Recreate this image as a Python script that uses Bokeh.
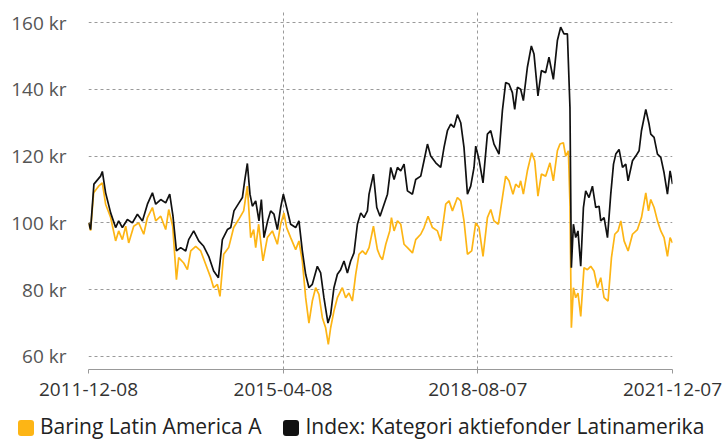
from datetime import datetime
from bokeh.plotting import figure
from bokeh.layouts import column
from bokeh.models import (Range1d, FixedTicker, DatetimeTickFormatter, PrintfTickFormatter,
                          ColumnDataSource, Div)
from bokeh.embed import file_html
from bokeh.resources import INLINE

# Decimal-year time stamps and values (kr)
index_t = [2011.936, 2011.970, 2012.027, 2012.141, 2012.171, 2012.227, 2012.313, 2012.398, 2012.450, 2012.513,
           2012.599, 2012.684, 2012.770, 2012.856, 2012.941, 2013.027, 2013.083, 2013.169, 2013.254, 2013.323,
           2013.379, 2013.438, 2013.511, 2013.597, 2013.648, 2013.734, 2013.820, 2013.905, 2013.991, 2014.076,
           2014.157, 2014.225, 2014.311, 2014.368, 2014.424, 2014.510, 2014.568, 2014.607, 2014.653, 2014.698,
           2014.739, 2014.796, 2014.852, 2014.893, 2014.938, 2015.001, 2015.052, 2015.109, 2015.167, 2015.224,
           2015.270, 2015.326, 2015.395, 2015.481, 2015.537, 2015.595, 2015.652, 2015.708, 2015.766, 2015.852,
           2015.909, 2015.965, 2016.034, 2016.080, 2016.136, 2016.195, 2016.251, 2016.308, 2016.366, 2016.422,
           2016.479, 2016.537, 2016.594, 2016.650, 2016.708, 2016.736, 2016.811, 2016.868, 2016.924, 2016.993,
           2017.051, 2017.107, 2017.164, 2017.222, 2017.278, 2017.335, 2017.393, 2017.479, 2017.535, 2017.621,
           2017.677, 2017.736, 2017.792, 2017.878, 2017.963, 2018.020, 2018.078, 2018.135, 2018.191, 2018.249,
           2018.306, 2018.362, 2018.421, 2018.477, 2018.534, 2018.563, 2018.619, 2018.688, 2018.763, 2018.820,
           2018.876, 2018.962, 2019.020, 2019.076, 2019.133, 2019.191, 2019.231, 2019.277, 2019.333, 2019.379,
           2019.448, 2019.516, 2019.561, 2019.629, 2019.688, 2019.761, 2019.818, 2019.893, 2019.962, 2020.018,
           2020.075, 2020.133, 2020.177, 2020.201, 2020.236, 2020.275, 2020.314, 2020.361, 2020.407, 2020.446,
           2020.503, 2020.561, 2020.618, 2020.674, 2020.703, 2020.760, 2020.818, 2020.874, 2020.921, 2020.960,
           2021.016, 2021.075, 2021.131, 2021.171, 2021.246, 2021.302, 2021.359, 2021.400, 2021.474, 2021.530,
           2021.559, 2021.616, 2021.674, 2021.731, 2021.787, 2021.845, 2021.890, 2021.932]
index_v = [100.0, 98.0, 111.6, 114.0, 115.4, 109.0, 103.0, 98.6, 100.6, 98.6,
           101.0, 100.0, 102.6, 100.6, 105.6, 109.0, 105.6, 107.0, 106.0, 108.6,
           102.0, 91.6, 92.6, 91.6, 95.0, 97.6, 94.6, 93.0, 90.0, 85.6,
           83.6, 95.0, 98.0, 98.6, 103.6, 106.0, 107.6, 112.6, 117.8, 108.6,
           105.0, 106.6, 100.6, 107.0, 95.6, 100.6, 103.6, 102.6, 98.0, 104.6,
           108.6, 104.6, 99.6, 98.6, 100.6, 91.6, 84.6, 80.6, 81.6, 87.0,
           85.0, 77.6, 70.0, 72.6, 80.6, 84.6, 86.0, 88.6, 85.0, 88.6,
           91.0, 99.6, 103.0, 101.6, 103.6, 108.6, 114.6, 104.6, 102.0, 105.6,
           108.6, 116.6, 113.0, 116.6, 115.6, 117.6, 109.6, 108.6, 113.0, 114.0,
           118.6, 123.6, 120.0, 118.0, 116.6, 122.6, 127.6, 129.6, 128.6, 132.4,
           130.0, 122.6, 108.6, 111.0, 116.6, 123.0, 119.0, 112.0, 126.6, 127.6,
           123.6, 120.6, 133.6, 142.0, 141.6, 139.0, 134.0, 140.6, 140.0, 136.6,
           146.6, 153.0, 150.6, 138.0, 145.6, 145.0, 149.6, 143.0, 154.6, 158.6,
           156.6, 156.6, 134.6, 86.6, 99.6, 95.6, 97.6, 87.0, 104.6, 109.6,
           107.6, 111.0, 104.6, 105.0, 100.6, 101.6, 95.6, 108.6, 117.6, 120.6,
           122.0, 116.6, 117.6, 112.6, 118.6, 120.0, 121.6, 127.6, 134.0, 129.6,
           126.6, 125.6, 120.6, 119.6, 115.0, 108.6, 115.6, 111.6]

fund_t = [2011.936, 2011.970, 2012.022, 2012.107, 2012.171, 2012.227, 2012.313, 2012.398, 2012.450, 2012.513,
          2012.570, 2012.621, 2012.707, 2012.792, 2012.878, 2012.941, 2013.027, 2013.083, 2013.169, 2013.254,
          2013.306, 2013.374, 2013.438, 2013.477, 2013.563, 2013.626, 2013.683, 2013.768, 2013.854, 2013.939,
          2014.025, 2014.076, 2014.140, 2014.184, 2014.248, 2014.333, 2014.419, 2014.504, 2014.590, 2014.653,
          2014.710, 2014.761, 2014.796, 2014.847, 2014.921, 2014.996, 2015.082, 2015.167, 2015.224, 2015.280,
          2015.326, 2015.395, 2015.481, 2015.537, 2015.595, 2015.652, 2015.708, 2015.766, 2015.823, 2015.879,
          2015.938, 2015.994, 2016.040, 2016.080, 2016.136, 2016.195, 2016.280, 2016.337, 2016.393, 2016.451,
          2016.508, 2016.564, 2016.623, 2016.679, 2016.736, 2016.811, 2016.879, 2016.924, 2016.965, 2017.022,
          2017.090, 2017.119, 2017.164, 2017.222, 2017.278, 2017.335, 2017.393, 2017.479, 2017.535, 2017.621,
          2017.677, 2017.746, 2017.821, 2017.907, 2017.963, 2018.049, 2018.106, 2018.164, 2018.249, 2018.306,
          2018.362, 2018.421, 2018.494, 2018.563, 2018.619, 2018.688, 2018.763, 2018.820, 2018.876, 2018.951,
          2019.020, 2019.076, 2019.133, 2019.201, 2019.248, 2019.304, 2019.333, 2019.379, 2019.448, 2019.522,
          2019.573, 2019.629, 2019.688, 2019.761, 2019.835, 2019.893, 2019.962, 2020.006, 2020.064, 2020.104,
          2020.150, 2020.177, 2020.201, 2020.236, 2020.275, 2020.314, 2020.361, 2020.417, 2020.475, 2020.532,
          2020.588, 2020.647, 2020.703, 2020.760, 2020.828, 2020.886, 2020.943, 2020.999, 2021.046, 2021.102,
          2021.171, 2021.246, 2021.331, 2021.400, 2021.474, 2021.520, 2021.559, 2021.616, 2021.674, 2021.731,
          2021.787, 2021.845, 2021.890, 2021.932]
fund_v = [100.0, 97.7, 109.0, 111.0, 112.0, 105.6, 101.6, 94.6, 97.6, 95.0,
          99.0, 94.0, 99.0, 100.0, 96.6, 101.6, 104.6, 100.6, 102.0, 98.0,
          104.0, 99.0, 83.0, 89.6, 88.0, 86.0, 91.6, 93.0, 91.6, 87.6,
          83.6, 80.6, 81.6, 78.0, 90.6, 92.6, 98.6, 101.0, 103.6, 111.0,
          95.6, 98.0, 92.6, 99.6, 88.6, 95.6, 97.6, 93.6, 99.6, 103.0,
          98.6, 95.6, 92.0, 94.6, 88.6, 77.6, 70.0, 76.6, 80.6, 78.6,
          71.6, 68.6, 63.6, 68.6, 73.6, 77.6, 80.6, 77.6, 79.0, 76.6,
          84.6, 90.6, 91.6, 90.6, 92.6, 99.0, 92.0, 90.0, 89.0, 93.6,
          97.6, 101.6, 97.6, 100.6, 99.6, 93.6, 92.6, 91.0, 95.0, 96.6,
          98.6, 102.0, 98.6, 97.6, 94.6, 105.6, 106.6, 103.6, 107.6, 106.6,
          100.6, 90.6, 91.6, 100.0, 98.6, 90.0, 101.6, 104.0, 100.6, 99.6,
          107.6, 114.0, 112.6, 108.6, 111.6, 110.6, 112.6, 108.6, 115.6, 121.0,
          118.6, 108.0, 114.6, 114.0, 118.0, 112.6, 121.6, 123.6, 124.0, 120.0,
          121.6, 105.6, 68.6, 80.6, 77.6, 79.0, 72.0, 86.6, 86.0, 87.0,
          85.6, 80.6, 83.6, 77.6, 76.6, 89.6, 96.6, 97.6, 100.6, 94.6,
          91.6, 96.6, 98.0, 101.6, 109.0, 103.6, 107.0, 104.6, 100.6, 97.6,
          95.6, 90.0, 95.6, 94.0]

tick_dates = ["2011-12-08", "2015-04-08", "2018-08-07", "2021-12-07"]
y_ticks = [60, 80, 100, 120, 140, 160]
fund_name = "Baring Latin America A"
index_name = "Index: Kategori aktiefonder Latinamerika"
fund_color = "#FDB515"
index_color = "#111111"


def to_dt(t):
    y = int(t)
    start = datetime(y, 1, 1)
    end = datetime(y + 1, 1, 1)
    return start + (end - start) * (t - y)


def ms(d):
    return datetime.strptime(d, "%Y-%m-%d").timestamp() * 1000.0


fund_src = ColumnDataSource(dict(x=[to_dt(t) for t in fund_t], y=fund_v))
index_src = ColumnDataSource(dict(x=[to_dt(t) for t in index_t], y=index_v))

p = figure(width=726, height=412, x_axis_type="datetime",
           output_backend="svg", toolbar_location=None,
           x_range=Range1d(datetime.strptime(tick_dates[0], "%Y-%m-%d"),
                           datetime.strptime(tick_dates[-1], "%Y-%m-%d")),
           y_range=Range1d(56.1, 163.6),
           min_border_left=88, min_border_right=54, min_border_top=10, min_border_bottom=43)
p.outline_line_color = None
p.background_fill_color = "white"
p.border_fill_color = "white"

r_fund = p.line("x", "y", source=fund_src, line_color=fund_color, line_width=1.7)
r_index = p.line("x", "y", source=index_src, line_color=index_color, line_width=1.7)

# x axis
p.xaxis.ticker = FixedTicker(ticks=[ms(d) for d in tick_dates])
p.xaxis.formatter = DatetimeTickFormatter(days="%Y-%m-%d", months="%Y-%m-%d", years="%Y-%m-%d",
                                          hours="%Y-%m-%d", minutes="%Y-%m-%d")
p.xaxis.axis_line_color = "#999999"
p.xaxis.axis_line_width = 1.2
p.xaxis.major_tick_line_color = "#999999"
p.xaxis.major_tick_out = 4
p.xaxis.major_tick_in = 0
p.xaxis.minor_tick_line_color = None
p.xaxis.major_label_standoff = 9
p.xaxis.major_label_text_font = "Open Sans"
p.xaxis.major_label_text_font_size = "19px"
p.xaxis.major_label_text_color = "#333333"

# y axis
p.yaxis.ticker = FixedTicker(ticks=y_ticks)
p.yaxis.formatter = PrintfTickFormatter(format="%d kr")
p.yaxis.axis_line_color = None
p.yaxis.major_tick_line_color = None
p.yaxis.minor_tick_line_color = None
p.yaxis.major_label_standoff = 16
p.yaxis.major_label_text_font = "Open Sans"
p.yaxis.major_label_text_font_size = "19px"
p.yaxis.major_label_text_color = "#555555"

for g in (p.xgrid, p.ygrid):
    g.grid_line_color = "#9a9a9a"
    g.grid_line_dash = "3 3"
    g.grid_line_width = 1

# legend strip below the chart, with rounded square swatches
def swatch(color):
    return ('<span style="display:inline-block;width:16px;height:16px;border-radius:3px;'
            f'background:{color};vertical-align:-2px;margin-right:6px"></span>')

legend_html = ('<div style="font-family:\'Open Sans\';font-size:21px;color:#222222;white-space:nowrap;'
               'line-height:25px;height:28px;padding-left:18px;padding-top:2px;box-sizing:border-box;'
               'overflow:visible">'
               f'{swatch(fund_color)}{fund_name}'
               '<span style="display:inline-block;width:22px"></span>'
               f'{swatch(index_color)}{index_name}</div>')
legend_div = Div(text=legend_html, width=726, height=29, margin=0)

layout = column(p, legend_div, spacing=0)
open("out.html", "w").write(file_html(layout, INLINE))
